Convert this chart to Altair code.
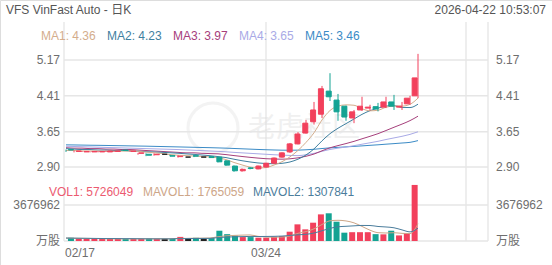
import altair as alt
import pandas as pd

# ---------------- data ----------------
dates = ["02/17", "02/18", "02/19", "02/20", "02/23", "02/24", "02/25", "02/26", "02/27",
         "03/02", "03/03", "03/04", "03/05", "03/06", "03/09", "03/10", "03/11", "03/12", "03/13",
         "03/16", "03/17", "03/18", "03/19", "03/20", "03/23", "03/24", "03/25", "03/26", "03/27",
         "03/30", "03/31", "04/01", "04/02", "04/06", "04/07", "04/08", "04/09", "04/10",
         "04/13", "04/14", "04/15", "04/16", "04/17", "04/20", "04/21"]
opens = [3.27, 3.23, 3.22, 3.22, 3.22, 3.22, 3.23, 3.26, 3.23, 3.19, 3.17, 3.16, 3.17, 3.14, 3.12,
         3.11, 3.14, 3.11, 3.12, 3.11, 3.03, 2.92, 2.82, 2.88, 2.86, 2.90, 2.98, 3.11, 3.22, 3.39,
         3.62, 3.86, 4.02, 4.51, 4.32, 4.19, 3.94, 4.11, 4.15, 4.18, 4.17, 4.28, 4.17, 4.24, 4.41]
highs = [3.27, 3.25, 3.24, 3.23, 3.24, 3.25, 3.25, 3.27, 3.26, 3.20, 3.19, 3.19, 3.17, 3.16, 3.15,
         3.11, 3.16, 3.11, 3.12, 3.12, 3.04, 2.93, 2.87, 2.90, 2.93, 2.99, 3.10, 3.21, 3.41, 3.64,
         3.90, 4.28, 4.62, 4.89, 4.45, 4.20, 4.11, 4.39, 4.22, 4.26, 4.39, 4.43, 4.28, 4.41, 5.30]
lows = [3.22, 3.21, 3.22, 3.21, 3.21, 3.22, 3.22, 3.24, 3.23, 3.16, 3.13, 3.14, 3.17, 3.13, 3.10,
        3.11, 3.11, 3.11, 3.09, 3.00, 2.93, 2.80, 2.80, 2.85, 2.85, 2.89, 2.97, 3.10, 3.20, 3.38,
        3.61, 3.80, 3.94, 4.30, 3.88, 3.88, 3.83, 4.09, 4.10, 4.08, 4.15, 4.11, 4.11, 4.22, 4.36]
closes = [3.26, 3.24, 3.23, 3.23, 3.23, 3.24, 3.24, 3.25, 3.24, 3.20, 3.15, 3.17, 3.17, 3.13, 3.13,
          3.11, 3.13, 3.11, 3.10, 3.01, 2.94, 2.82, 2.85, 2.87, 2.92, 2.98, 3.09, 3.20, 3.39, 3.60,
          3.83, 4.11, 4.56, 4.39, 4.07, 3.96, 4.07, 4.19, 4.17, 4.13, 4.28, 4.19, 4.19, 4.36, 4.79]
volumes = [330000, 250000, 220000, 220000, 220000, 220000, 220000, 200000, 220000, 220000,
           240000, 220000, 220000, 220000, 420000, 250000, 330000, 250000, 300000, 1050000,
           700000, 550000, 400000, 400000, 340000, 340000, 440000, 510000, 950000, 1700000,
           1190000, 1870000, 2720000, 2830000, 1970000, 850000, 900000, 900000, 900000, 700000,
           680000, 1050000, 570000, 800000, 5726049]
ma1 = [3.25, 3.25, 3.24, 3.24, 3.238, 3.234, 3.234, 3.238, 3.24, 3.234, 3.216, 3.202, 3.186, 3.164,
       3.15, 3.142, 3.134, 3.122, 3.116, 3.092, 3.058, 2.996, 2.944, 2.898, 2.88, 2.888, 2.942,
       3.012, 3.116, 3.252, 3.422, 3.626, 3.898, 4.098, 4.192, 4.218, 4.21, 4.136, 4.092, 4.104,
       4.168, 4.192, 4.192, 4.23, 4.362]
ma2 = [3.29, 3.28, 3.27, 3.27, 3.26, 3.26, 3.25, 3.25, 3.24, 3.236, 3.225, 3.218, 3.212, 3.202,
       3.192, 3.179, 3.168, 3.154, 3.14, 3.121, 3.10, 3.065, 3.033, 3.007, 2.986, 2.973, 2.969,
       2.978, 3.007, 3.066, 3.155, 3.284, 3.455, 3.607, 3.722, 3.82, 3.918, 4.017, 4.095, 4.148,
       4.193, 4.201, 4.164, 4.161, 4.233]
ma3 = [3.31, 3.30, 3.30, 3.29, 3.29, 3.28, 3.28, 3.27, 3.27, 3.26, 3.25, 3.24, 3.23, 3.22, 3.21,
       3.20, 3.20, 3.19, 3.185, 3.179, 3.163, 3.142, 3.123, 3.105, 3.089, 3.076, 3.069, 3.066,
       3.074, 3.094, 3.128, 3.175, 3.244, 3.307, 3.354, 3.397, 3.444, 3.498, 3.551, 3.607, 3.674,
       3.743, 3.81, 3.884, 3.978]
ma4 = [3.34, 3.335, 3.33, 3.325, 3.32, 3.315, 3.31, 3.305, 3.30, 3.295, 3.29, 3.285, 3.28, 3.275,
       3.27, 3.262, 3.255, 3.248, 3.24, 3.232, 3.222, 3.21, 3.20, 3.19, 3.18, 3.17, 3.16, 3.152,
       3.145, 3.141, 3.16, 3.189, 3.233, 3.272, 3.30, 3.324, 3.352, 3.383, 3.414, 3.445, 3.483,
       3.517, 3.551, 3.592, 3.647]
ma5 = [3.37, 3.368, 3.365, 3.362, 3.36, 3.357, 3.354, 3.351, 3.348, 3.345, 3.342, 3.338, 3.334,
       3.33, 3.326, 3.322, 3.318, 3.314, 3.31, 3.305, 3.30, 3.293, 3.286, 3.279, 3.272, 3.266,
       3.261, 3.257, 3.256, 3.258, 3.265, 3.276, 3.292, 3.306, 3.317, 3.327, 3.337, 3.348, 3.36,
       3.371, 3.384, 3.396, 3.409, 3.423, 3.46]
mavol1 = [300000, 280000, 270000, 260000, 248000, 226000, 220000, 216000, 216000, 216000, 220000,
          220000, 224000, 224000, 264000, 266000, 288000, 294000, 310000, 436000, 526000, 570000,
          600000, 620000, 478000, 406000, 384000, 406000, 516000, 788000, 958000, 1244000,
          1686000, 2062000, 2116000, 2048000, 1854000, 1490000, 1104000, 850000, 816000, 846000,
          780000, 760000, 1765059]
mavol2 = [300000, 290000, 280000, 270000, 260000, 250000, 250000, 240000, 240000, 232000, 223000,
          220000, 220000, 220000, 240000, 243000, 254000, 259000, 267000, 350000, 396000, 429000,
          447000, 465000, 457000, 466000, 477000, 503000, 568000, 633000, 682000, 814000,
          1046000, 1289000, 1452000, 1503000, 1549000, 1588000, 1583000, 1483000, 1432000,
          1350000, 1135000, 932000, 1307841]

price_ticks = [5.17, 4.41, 3.65, 2.90]
price_labels = ["5.17", "4.41", "3.65", "2.90"]
vol_ticks = [3676962, 0]
vol_labels = ["3676962", "万股"]
xtick_dates = ["02/17", "03/24"]
ma_names = ["MA1", "MA2", "MA3", "MA4", "MA5"]
ma_last = ["4.36", "4.23", "3.97", "3.65", "3.46"]
vol_names = ["VOL1", "MAVOL1", "MAVOL2"]
vol_last = ["5726049", "1765059", "1307841"]
title_text = "VFS VinFast Auto - 日K"
time_text = "2026-04-22  10:53:07"
watermark_text = "老虎社区"

# ---------------- styling ----------------
FONT = "Liberation Sans, Arial, Noto Sans CJK SC, sans-serif"
UP, DOWN, FLAT = "#f2405c", "#14a393", "#222222"
MA_COLORS = ["#d4ad8c", "#3f7f9f", "#a6407c", "#a9aae6", "#3b8bc6"]
VOL_COLORS = ["#ec5a70", "#cda688", "#4b7d9c"]
GRID = "#e6e6e6"
LABEL = "#6e6e6e"

n = len(dates)
df = pd.DataFrame({
    "i": list(range(n)), "date": dates, "open": opens, "high": highs, "low": lows,
    "close": closes, "vol": volumes, "ma1": ma1, "ma2": ma2, "ma3": ma3, "ma4": ma4,
    "ma5": ma5, "mavol1": mavol1, "mavol2": mavol2,
})
df["dir"] = ["up" if c > o else ("down" if c < o else "flat") for o, c in zip(opens, closes)]

xs = alt.Scale(domain=[-0.25, 52.75], range=[64, 488], nice=False, zero=False)
ps = alt.Scale(domain=[2.90, 5.17], range=[167, 60], nice=False, zero=False)
vs = alt.Scale(domain=[0, 3676962], range=[241, 205], nice=False, zero=False)
dir_scale = alt.Scale(domain=["up", "down", "flat"], range=[UP, DOWN, FLAT])

X = alt.X("i:Q", scale=xs, axis=None)
base = alt.Chart(df)

# watermark (faint)
wm_ring = alt.Chart(pd.DataFrame({"t": [watermark_text]})).mark_point(
    shape="circle", filled=False, size=2500, stroke="#eeeeee", strokeWidth=3).encode(
    x=alt.value(213), y=alt.value(128))
wm_text = alt.Chart(pd.DataFrame({"t": [watermark_text]})).mark_text(
    align="left", baseline="middle", font="Noto Sans CJK SC", fontSize=28,
    color="#f0f0f0").encode(x=alt.value(248), y=alt.value(129), text="t:N")

# grid
vgrid = alt.Chart(pd.DataFrame({"i": [-0.25, 25, 50, 52.75]})).mark_rule(
    color="#dddddd", strokeWidth=1).encode(x=X, y=alt.value(22), y2=alt.value(241))
pgrid = alt.Chart(pd.DataFrame({"p": price_ticks})).mark_rule(
    color=GRID, strokeWidth=1.5).encode(
    y=alt.Y("p:Q", scale=ps, axis=None), x=alt.value(64), x2=alt.value(488))
vgrid_h = alt.Chart(pd.DataFrame({"v": vol_ticks})).mark_rule(
    color=GRID, strokeWidth=1.5).encode(
    y=alt.Y("v:Q", scale=vs, axis=None), x=alt.value(64), x2=alt.value(488))

# candles
wicks = base.mark_rule(strokeWidth=1).encode(
    x=X, y=alt.Y("low:Q", scale=ps, axis=None), y2="high:Q",
    color=alt.Color("dir:N", scale=dir_scale, legend=None))
bodies = base.mark_bar(size=5, strokeWidth=1).encode(
    x=X, y=alt.Y("open:Q", scale=ps, axis=None), y2="close:Q",
    color=alt.Color("dir:N", scale=dir_scale, legend=None),
    stroke=alt.Stroke("dir:N", scale=dir_scale, legend=None))

ma_layers = []
for k, col in enumerate(["ma1", "ma2", "ma3", "ma4", "ma5"]):
    ma_layers.append(base.mark_line(color=MA_COLORS[k], strokeWidth=1, interpolate="monotone").encode(
        x=X, y=alt.Y(f"{col}:Q", scale=ps, axis=None)))

# volume
vbars = base.mark_bar(size=6).encode(
    x=X, y=alt.Y("vol:Q", scale=vs, axis=None),
    color=alt.Color("dir:N", scale=dir_scale, legend=None))
mavol_layers = []
for k, col in enumerate(["mavol1", "mavol2"]):
    mavol_layers.append(base.mark_line(color=VOL_COLORS[k + 1], strokeWidth=1,
                                       interpolate="monotone").encode(
        x=X, y=alt.Y(f"{col}:Q", scale=vs, axis=None)))

# axis labels
pl = pd.DataFrame({"p": price_ticks, "t": price_labels})
p_left = alt.Chart(pl).mark_text(align="right", baseline="middle", font=FONT, fontSize=12,
                                 color=LABEL).encode(
    y=alt.Y("p:Q", scale=ps, axis=None), x=alt.value(60), text="t:N")
p_right = alt.Chart(pl).mark_text(align="left", baseline="middle", font=FONT, fontSize=12,
                                  color=LABEL).encode(
    y=alt.Y("p:Q", scale=ps, axis=None), x=alt.value(496), text="t:N")
vl = pd.DataFrame({"v": vol_ticks, "t": vol_labels})
v_left = alt.Chart(vl).mark_text(align="right", baseline="middle", font=FONT, fontSize=12,
                                 color=LABEL).encode(
    y=alt.Y("v:Q", scale=vs, axis=None), x=alt.value(60), text="t:N")
v_right = alt.Chart(vl).mark_text(align="left", baseline="middle", font=FONT, fontSize=12,
                                  color=LABEL).encode(
    y=alt.Y("v:Q", scale=vs, axis=None), x=alt.value(496), text="t:N")

xl = df[df["date"].isin(xtick_dates)][["i", "date"]].copy()
x_first = alt.Chart(xl.iloc[[0]]).mark_text(align="left", baseline="middle", font=FONT,
                                            fontSize=12, color=LABEL, dx=-1).encode(
    x=X, y=alt.value(253), text="date:N")
x_rest = alt.Chart(xl.iloc[1:]).mark_text(align="center", baseline="middle", font=FONT,
                                          fontSize=12, color=LABEL).encode(
    x=X, y=alt.value(253), text="date:N")

# header + legends
title = alt.Chart(pd.DataFrame({"t": [title_text]})).mark_text(
    align="left", baseline="middle", font=FONT, fontSize=12, color="#555555").encode(
    x=alt.value(6), y=alt.value(10), text="t:N")
tstamp = alt.Chart(pd.DataFrame({"t": [time_text]})).mark_text(
    align="right", baseline="middle", font=FONT, fontSize=12, color="#555555").encode(
    x=alt.value(546), y=alt.value(10), text="t:N")

ma_leg = pd.DataFrame({"t": [f"{a}: {b}" for a, b in zip(ma_names, ma_last)],
                       "c": MA_COLORS, "xp": [41, 107, 173, 239, 305]})
ma_text = alt.Chart(ma_leg).mark_text(align="left", baseline="middle", font=FONT,
                                      fontSize=12).encode(
    x=alt.X("xp:Q", scale=None), y=alt.value(36), text="t:N", color=alt.Color("c:N", scale=None))
vol_leg = pd.DataFrame({"t": [f"{a}: {b}" for a, b in zip(vol_names, vol_last)],
                        "c": VOL_COLORS, "xp": [49, 143, 253]})
vol_text = alt.Chart(vol_leg).mark_text(align="left", baseline="middle", font=FONT,
                                        fontSize=12).encode(
    x=alt.X("xp:Q", scale=None), y=alt.value(192), text="t:N", color=alt.Color("c:N", scale=None))

chart = alt.layer(
    wm_ring, wm_text, vgrid, pgrid, vgrid_h, *ma_layers[::-1], wicks, bodies, vbars,
    *mavol_layers, p_left, p_right, v_left, v_right, x_first, x_rest, title, tstamp,
    ma_text, vol_text,
).resolve_scale(y="independent", color="independent", x="independent").properties(
    width=552, height=265, autosize=alt.AutoSizeParams(type="none"), padding=0,
).configure_view(stroke=None).configure(background="white")

chart.save("out.html", embed_options={"renderer": "svg", "actions": False})
